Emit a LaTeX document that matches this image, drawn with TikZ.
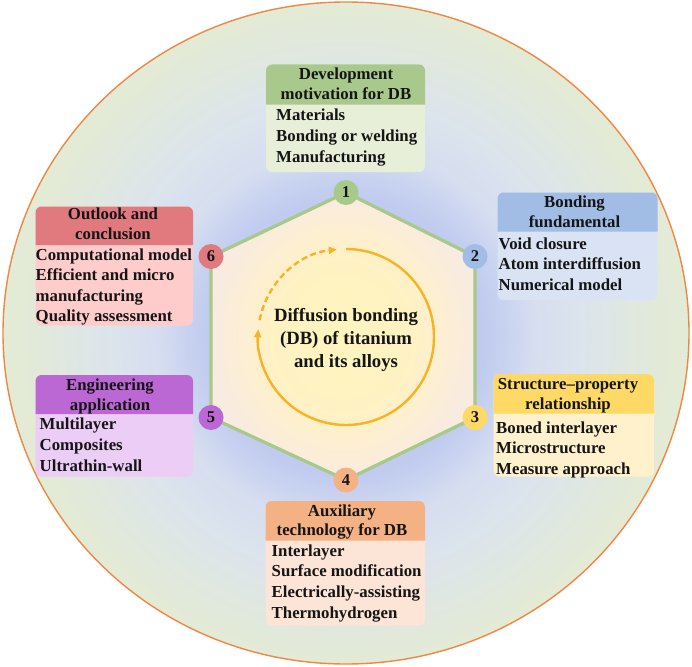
\documentclass[tikz,border=0pt]{standalone}
\usepackage{fontspec}
\setmainfont{Liberation Serif}
\usetikzlibrary{arrows.meta}
\definecolor{ringorange}{HTML}{EE8844}
\definecolor{bgouter}{HTML}{E3EAD5}
\definecolor{glowA}{HTML}{C0CBEF}
\definecolor{glowB}{HTML}{C8D2F0}
\definecolor{glowC}{HTML}{D6DEF0}
\definecolor{glowD}{HTML}{DCE4EC}
\definecolor{glowE}{HTML}{E0E8DF}
\definecolor{hexA}{HTML}{FFF5BE}
\definecolor{hexB}{HTML}{FFF2C2}
\definecolor{hexC}{HTML}{FDEFD3}
\definecolor{hexD}{HTML}{F8EBE0}
\definecolor{hexgreen}{HTML}{A8C98A}
\definecolor{arcyellow}{HTML}{F6B324}
\definecolor{txtcol}{HTML}{151515}
\definecolor{greenT}{HTML}{A9C98C}
\definecolor{greenB}{HTML}{E7EFD9}
\definecolor{blueT}{HTML}{A1BDE5}
\definecolor{blueB}{HTML}{DAE3F4}
\definecolor{yellowT}{HTML}{FFD966}
\definecolor{yellowB}{HTML}{FFF1CC}
\definecolor{orangeT}{HTML}{F4B183}
\definecolor{orangeB}{HTML}{FCE4D6}
\definecolor{purpleT}{HTML}{BC68D4}
\definecolor{purpleB}{HTML}{EBCDF5}
\definecolor{redT}{HTML}{E07A7E}
\definecolor{redB}{HTML}{FFCCCC}
\pgfdeclareradialshading{glowshade}{\pgfpoint{0bp}{0bp}}{color(0bp)=(glowA); color(10.6bp)=(glowA); color(12.1bp)=(glowB); color(14.4bp)=(glowC); color(18.2bp)=(glowD); color(22bp)=(glowE); color(25bp)=(bgouter); color(50bp)=(bgouter)}
\pgfdeclareradialshading{hexshade}{\pgfpoint{0bp}{0bp}}{color(0bp)=(hexA); color(13bp)=(hexB); color(19bp)=(hexC); color(25bp)=(hexD); color(50bp)=(hexD)}
\pgfdeclarelayer{back}
\pgfdeclarelayer{mid}
\pgfsetlayers{back,mid,main}
\newcommand{\infobox}[7]{%
  \fill[#7, rounded corners=6pt] (#1,#3) rectangle (#2,#5);
  \fill[#6] (#1,#4) [rounded corners=6pt] -- (#1,#3) -- (#2,#3) [sharp corners] -- (#2,#4) -- cycle;
}
\newcommand{\txtlines}[6]{%
  \foreach \linetext [count=\ti] in {#6} {\node[#2] (#1\ti) at ({#3},{#4+#5*(\ti-1)}) {\linetext};}%
}
\begin{document}
\begin{tikzpicture}[x=1pt,y=-1pt,
  bodytxt/.style={anchor=base west, inner sep=0pt, text=txtcol, font=\fontsize{16.8}{20}\selectfont\bfseries},
  titletxt/.style={anchor=base, inner sep=0pt, text=txtcol, font=\fontsize{16.8}{20}\selectfont\bfseries},
  numnode/.style={circle, inner sep=0pt, minimum size=25pt, text=txtcol, font=\fontsize{16.5}{18}\selectfont\bfseries},
  arcline/.style={arcyellow, line width=2.4pt},
  arctip/.style={-{Triangle[length=8pt, width=7pt]}}
]
\useasboundingbox (0,0) rectangle (692,666);
\begin{pgfonlayer}{back}
\fill[white] (0,0) rectangle (692,666);
\fill[bgouter] (346,333) ellipse[x radius=343, y radius=331];
\shade[shading=glowshade] (346,336) circle[radius=328];
\draw[ringorange, line width=1.4pt] (346,333) ellipse[x radius=343, y radius=331];
\end{pgfonlayer}

% numbered vertices
\node[numnode, fill=greenT]  (n1) at (346,192.5) {1};
\node[numnode, fill=blueT]   (n2) at (475,256.5) {2};
\node[numnode, fill=yellowT] (n3) at (475,417.5) {3};
\node[numnode, fill=orangeT] (n4) at (346,480) {4};
\node[numnode, fill=purpleT] (n5) at (211,417.5) {5};
\node[numnode, fill=redT]    (n6) at (211,256.5) {6};

\begin{pgfonlayer}{mid}
\shadedraw[shading=hexshade, draw=hexgreen, line width=3.3pt, line join=round]
  (n1.center) -- (n2.center) -- (n3.center) -- (n4.center) -- (n5.center) -- (n6.center) -- cycle;
\end{pgfonlayer}

% cycle arrows
\coordinate (cc) at (346,337);
\draw[arcline, arctip] (cc) ++(-90:88) arc[start angle=-90, end angle=185, radius=88];
\draw[arcline, dash pattern=on 6pt off 3.5pt, arctip] (cc) ++(191:88) arc[start angle=191, end angle=264, radius=88];

\node[align=center, inner sep=0pt, text=txtcol, font=\fontsize{18.7}{22.6}\selectfont\bfseries] (ctext) at (346,340) {Diffusion bonding\\(DB) of titanium\\and its alloys};

% box 1
\infobox{266}{425}{64.5}{104.5}{172}{greenT}{greenB}
\txtlines{b1t}{titletxt}{346}{79.5}{20}{Development,motivation for DB}
\txtlines{b1b}{bodytxt}{276}{121}{20.6}{Materials,Bonding or welding,Manufacturing}
% box 2
\infobox{497.5}{657.5}{192.5}{231.5}{300}{blueT}{blueB}
\txtlines{b2t}{titletxt}{574.5}{207}{20.7}{Bonding,fundamental}
\txtlines{b2b}{bodytxt}{498.5}{249}{20.75}{Void closure,Atom interdiffusion,Numerical model}
% box 3
\infobox{493.5}{654}{374}{413.5}{476.5}{yellowT}{yellowB}
\txtlines{b3t}{titletxt}{568}{389}{20}{Structure–property,relationship}
\txtlines{b3b}{bodytxt}{496}{433}{20.5}{Boned interlayer,Microstructure,Measure approach}
% box 4
\infobox{265.5}{425}{501}{540.5}{625.5}{orangeT}{orangeB}
\txtlines{b4t}{titletxt}{342}{516}{19.5}{Auxiliary,technology for DB}
\txtlines{b4b}{bodytxt}{271.5}{556}{20.7}{Interlayer,Surface modification,Electrically-assisting,Thermohydrogen}
% box 5
\infobox{35.5}{193}{375}{414}{476.5}{purpleT}{purpleB}
\txtlines{b5t}{titletxt}{110}{390.5}{19.5}{Engineering,application}
\txtlines{b5b}{bodytxt}{39.5}{429.5}{20.75}{Multilayer,Composites,Ultrathin-wall}
% box 6
\infobox{35.5}{193}{206.5}{245}{325.5}{redT}{redB}
\txtlines{b6t}{titletxt}{113}{219}{20.5}{Outlook and,conclusion}
\txtlines{b6b}{bodytxt}{35.5}{260.5}{20.3}{Computational model,Efficient and micro,manufacturing,Quality assessment}
\end{tikzpicture}
\end{document}
